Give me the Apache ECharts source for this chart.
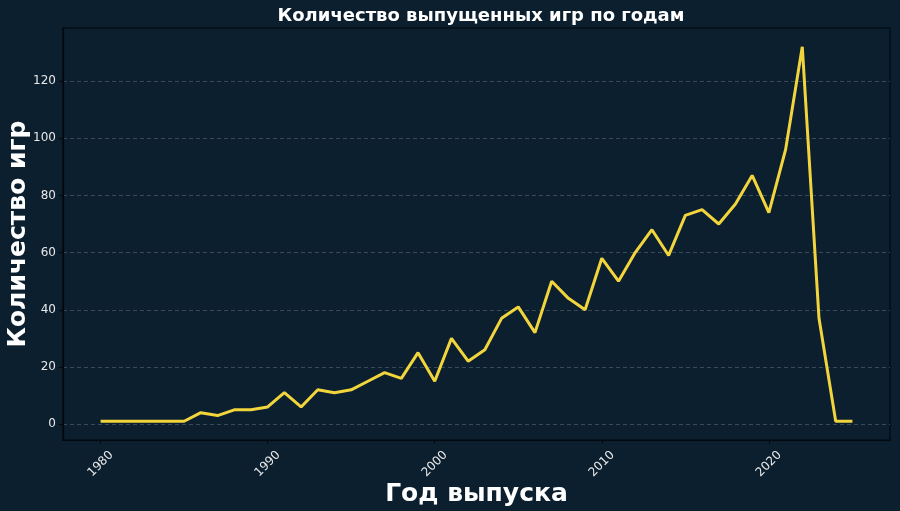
<!DOCTYPE html>
<html><head><meta charset="utf-8">
<script src="https://cdn.jsdelivr.net/npm/echarts@6/dist/echarts.min.js"></script>
<style>html,body{margin:0;padding:0;background:#0b1f2f;}#c{width:900px;height:511px;}</style>
</head><body><div id="c"></div>
<script>
const years = [1980,1981,1982,1983,1984,1985,1986,1987,1988,1989,1990,1991,1992,1993,1994,1995,1996,1997,1998,1999,2000,2001,2002,2003,2004,2005,2006,2007,2008,2009,2010,2011,2012,2013,2014,2015,2016,2017,2018,2019,2020,2021,2022,2023,2024,2025];
const counts = [1,1,1,1,1,1,4,3,5,5,6,11,6,12,11,12,15,18,16,25,15,30,22,26,37,41,32,50,44,40,58,50,60,68,59,73,75,70,77,87,74,96,132,37,1,1];
const xTicks = [1980,1990,2000,2010,2020];
const yTicks = [0,20,40,60,80,100,120];
const titleText = 'Количество выпущенных игр по годам';
const xName = 'Год выпуска';
const yName = 'Количество игр';

const xMin = 1980 - 0.05*(2025-1980), xMax = 2025 + 0.05*(2025-1980);
const yLo = Math.min(...counts), yHi = Math.max(...counts);
const yMin = yLo - 0.05*(yHi-yLo), yMax = yHi + 0.05*(yHi-yLo);

const chart = echarts.init(document.getElementById('c'), null, {renderer:'canvas'});
const pixelFont = '"DejaVu Sans", sans-serif';
chart.setOption({
  backgroundColor: '#0b1f2f',
  animation: false,
  title: {
    text: titleText, left: 476, top: 2, textAlign: 'center',
    textStyle: {color:'#ffffff', fontFamily: pixelFont, fontWeight:'bold', fontSize:18}
  },
  grid: {left:63, right:10, top:28, bottom:71, show:true, containLabel:false, outerBoundsMode:'none', borderColor:'#02080d', borderWidth:1.2, backgroundColor:'#0b1f2f'},
  xAxis: {
    type:'value', min:xMin, max:xMax,
    name: xName, nameLocation:'middle', nameGap:42, nameMoveOverlap:false,
    nameTextStyle:{color:'#ffffff', fontFamily: pixelFont, fontWeight:'bold', fontSize:25},
    axisLine:{show:true, onZero:false, lineStyle:{color:'#02080d', width:1.2}},
    axisTick:{show:true, length:4, customValues:xTicks, lineStyle:{color:'#02080d', width:1}},
    axisLabel:{customValues:xTicks, rotate:45, color:'#e8e8e8', fontSize:12, fontFamily:'"DejaVu Sans", sans-serif', margin:24, align:'center', verticalAlign:'middle', formatter: v => String(v)},
    splitLine:{show:false}
  },
  yAxis: {
    type:'value', min:yMin, max:yMax,
    name: yName, nameLocation:'middle', nameGap:32, nameRotate:90, nameMoveOverlap:false,
    nameTextStyle:{color:'#ffffff', fontFamily: pixelFont, fontWeight:'bold', fontSize:25},
    axisLine:{show:true, onZero:false, lineStyle:{color:'#02080d', width:1.2}},
    axisTick:{show:true, length:4, customValues:yTicks, lineStyle:{color:'#02080d', width:1}},
    axisLabel:{customValues:yTicks, color:'#e8e8e8', fontSize:12, fontFamily:'"DejaVu Sans", sans-serif', margin:7, formatter: v => String(v)},
    splitLine:{show:true, lineStyle:{color:'#3a4b57', type:[4,3], width:1}}
  },
  series: [{
    type:'line', data: years.map((y,i)=>[y, counts[i]]),
    showSymbol:false, symbol:'none',
    lineStyle:{color:'#f2d53c', width:3}, itemStyle:{color:'#f2d53c'}
  }]
});
</script></body></html>
